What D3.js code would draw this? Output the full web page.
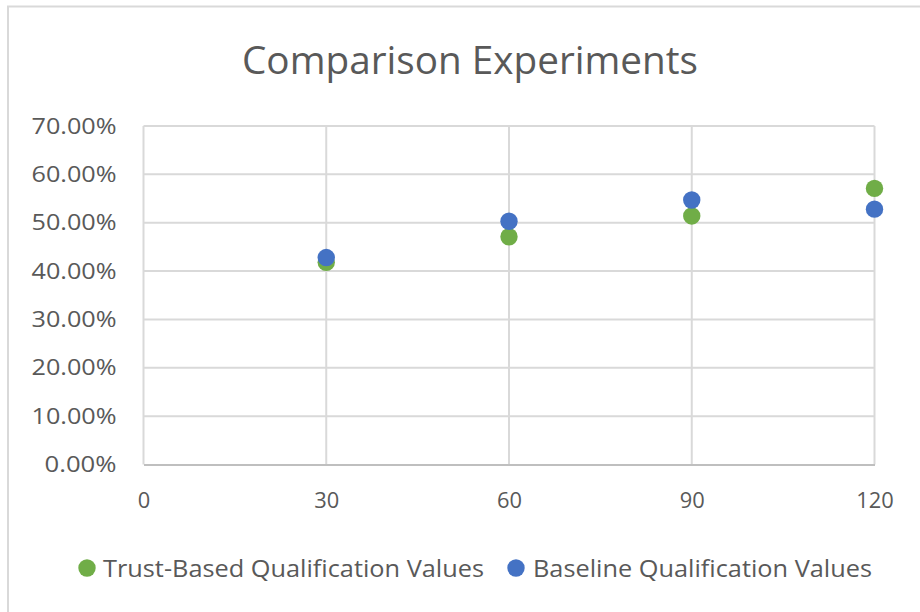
<!DOCTYPE html>
<html>
<head>
<meta charset="utf-8">
<script src="https://cdn.jsdelivr.net/npm/d3@7/dist/d3.min.js"></script>
<style>
  html, body { margin: 0; padding: 0; background: #fff; }
  svg { display: block; }
  text { font-family: "Open Sans", "Noto Sans", sans-serif; fill: #595959; }
</style>
</head>
<body>
<svg id="chart" width="920" height="612"></svg>
<script>
// Experiment sizes on the x axis
const xValues = [30, 60, 90, 120];
// Qualification rates (%) per series
const trustBased = [41.8, 47.1, 51.4, 57.1];
const baseline = [42.8, 50.3, 54.7, 52.8];
const seriesNames = ["Trust-Based Qualification Values", "Baseline Qualification Values"];
const seriesColors = ["#70ad47", "#4472c4"];
const xTicks = [0, 30, 60, 90, 120];
const yTicks = [0, 10, 20, 30, 40, 50, 60, 70];
const titleText = "Comparison Experiments";

const svg = d3.select("#chart");

// outer chart frame
svg.append("path")
  .attr("d", "M8,620 L8,6.5 L930,6.5")
  .attr("fill", "none")
  .attr("stroke", "#d9d9d9")
  .attr("stroke-width", 2);

const plot = { left: 143.5, right: 874.5, top: 126, bottom: 464.5 };

const x = d3.scaleLinear().domain([0, 120]).range([plot.left, plot.right]);
const y = d3.scaleLinear().domain([0, 70]).range([plot.bottom, plot.top]);

// title
svg.append("text")
  .attr("x", 470).attr("y", 74)
  .attr("text-anchor", "middle")
  .attr("font-size", 39)
  .attr("textLength", 456)
  .attr("lengthAdjust", "spacingAndGlyphs")
  .text(titleText);

// horizontal gridlines
svg.append("g")
  .selectAll("line")
  .data(yTicks.filter(d => d > 0))
  .join("line")
  .attr("x1", plot.left).attr("x2", plot.right)
  .attr("y1", d => y(d)).attr("y2", d => y(d))
  .attr("stroke", "#d9d9d9").attr("stroke-width", 2);

// vertical gridlines
svg.append("g")
  .selectAll("line")
  .data(xTicks)
  .join("line")
  .attr("x1", d => x(d)).attr("x2", d => x(d))
  .attr("y1", plot.top).attr("y2", plot.bottom)
  .attr("stroke", "#d9d9d9").attr("stroke-width", 2);

// x axis
const xAxis = svg.append("g")
  .attr("transform", `translate(0,${plot.bottom})`)
  .call(d3.axisBottom(x).tickValues(xTicks).tickSize(0).tickPadding(28));
xAxis.select(".domain").attr("stroke", "#bfbfbf").attr("stroke-width", 2);
xAxis.selectAll("text")
  .attr("font-size", 22)
  .attr("font-family", "\"Open Sans\", sans-serif")
  .attr("fill", "#595959")
  .attr("textLength", function () { return 12.5 * this.textContent.length; })
  .attr("lengthAdjust", "spacingAndGlyphs");

// y axis
const yAxis = svg.append("g")
  .attr("transform", `translate(${plot.left},0)`)
  .call(d3.axisLeft(y).tickValues(yTicks).tickSize(0).tickPadding(27)
    .tickFormat(d => d.toFixed(2) + "%"));
yAxis.select(".domain").remove();
yAxis.selectAll("text")
  .attr("font-size", 22)
  .attr("font-family", "\"Open Sans\", sans-serif")
  .attr("fill", "#595959")
  .attr("textLength", function () { return 13 * this.textContent.length + 7; })
  .attr("lengthAdjust", "spacingAndGlyphs");

// markers
const series = [trustBased, baseline];
series.forEach((vals, i) => {
  svg.append("g")
    .selectAll("circle")
    .data(vals.map((v, j) => ({ x: xValues[j], v })))
    .join("circle")
    .attr("cx", d => x(d.x))
    .attr("cy", d => y(d.v))
    .attr("r", 8.7)
    .attr("fill", seriesColors[i]);
});

// legend
const legendItems = [
  { cx: 87, tx: 103, len: 381 },
  { cx: 516, tx: 533, len: 339 }
];
const legend = svg.append("g");
legendItems.forEach((it, i) => {
  legend.append("circle")
    .attr("cx", it.cx).attr("cy", 568).attr("r", 8.7)
    .attr("fill", seriesColors[i]);
  legend.append("text")
    .attr("x", it.tx).attr("y", 577)
    .attr("font-size", 23)
    .attr("textLength", it.len)
    .attr("lengthAdjust", "spacingAndGlyphs")
    .text(seriesNames[i]);
});
</script>
</body>
</html>
